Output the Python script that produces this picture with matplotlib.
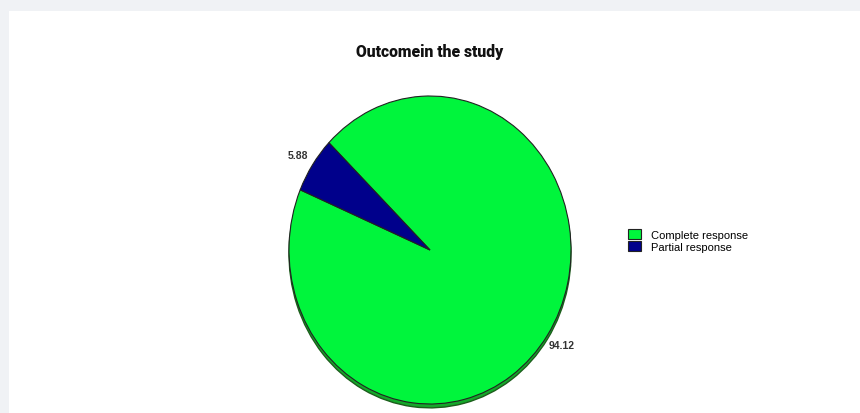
import matplotlib.pyplot as plt
from matplotlib.patches import Patch, Rectangle

# Outcome shares (percent)
categories = ["Complete response", "Partial response"]
shares = [94.12, 5.88]
colours = ["#00F53C", "#00008B"]

W, H = 860, 414
fig = plt.figure(figsize=(W / 100, H / 100), dpi=100)
fig.patch.set_facecolor("#f0f2f5")

# white card behind the chart
fig.patches.append(Rectangle((9 / W, 0), 1 - 9 / W, 1 - 12 / H, transform=fig.transFigure,
                             facecolor="white", edgecolor="none", zorder=-5))

# pie axes sized so the circle becomes the tall ellipse
cx, cy, a, b = 430, 251, 141, 154
ax = fig.add_axes([(cx - a) / W, (H - cy - b) / H, 2 * a / W, 2 * b / H])
ax.set_axis_off()
ax.set_zorder(2)

# drop shadow under the pie
shadow, _ = ax.pie(shares, colors=["#14a82a", "#14a82a"], startangle=157, counterclock=True,
                   center=(0, -0.025), wedgeprops=dict(edgecolor="#1c5e1c", linewidth=1.0))

wedges, texts = ax.pie(shares, colors=colours, startangle=157, counterclock=True,
                       labels=[f"{v:.2f}" for v in shares], labeldistance=1.12,
                       wedgeprops=dict(edgecolor="#222222", linewidth=0.8),
                       textprops=dict(fontsize=7.5, fontweight="bold", color="#333333",
                                      family="Liberation Sans"))
for t in texts:
    t.set_ha("center")
    t.set_va("center")
for w in list(shadow) + list(wedges):
    w.set_clip_on(False)

ax.set_aspect("auto")
ax.set_xlim(-1, 1)
ax.set_ylim(-1, 1)

fig.text(cx / W, 1 - 52 / H, "Outcomein the study", ha="center", va="center",
         fontsize=11.3, fontweight=900, family=["Roboto", "DejaVu Sans"],
         color="#111111")

handles = [Patch(facecolor=c, edgecolor="#222222", linewidth=0.8) for c in colours]
fig.legend(handles, categories, loc="upper left", bbox_to_anchor=(622 / W, 1 - 224 / H),
           frameon=False, handlelength=1.2, handleheight=1.1,
           handletextpad=0.9, labelspacing=0.1, borderpad=0,
           prop=dict(family="Liberation Sans", size=8))

fig.savefig("out.png", dpi=100, facecolor=fig.get_facecolor())
